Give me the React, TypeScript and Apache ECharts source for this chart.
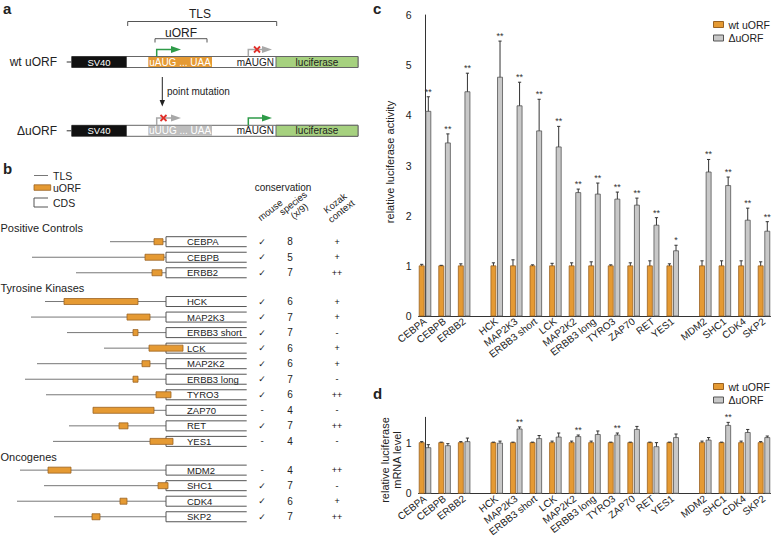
import React, { useEffect, useRef } from 'react';
import * as echarts from 'echarts';

// ---------- data ----------
const genes = ['CEBPA', 'CEBPB', 'ERBB2', 'HCK', 'MAP2K3', 'ERBB3 short', 'LCK', 'MAP2K2', 'ERBB3 long', 'TYRO3', 'ZAP70', 'RET', 'YES1', 'MDM2', 'SHC1', 'CDK4', 'SKP2'];
const geneGroup = [0, 0, 0, 1, 1, 1, 1, 1, 1, 1, 1, 1, 1, 2, 2, 2, 2];
const groupNames = ['Positive Controls', 'Tyrosine Kinases', 'Oncogenes'];

// panel b: TLS / uORF positions relative to CDS start (arbitrary length units)
const tlsStart = [-56, -134, -90, -121, -135, -99, -62, -129, -141, -120, -73, -97, -113, -146, -122, -149, -112];
const uorfStart = [-12, -21, -14, -102, -39, -33, -17, -24, -33, -10, -73, -47, -16, -118, -8, -46, -74];
const uorfEnd = [-3, -2, -4, -28, -16, -28, 17, -16, -28, 5, -12, -38, 7, -95, 2, -39, -66];
const mouseCons = ['✓', '✓', '✓', '✓', '✓', '✓', '✓', '✓', '✓', '✓', '-', '✓', '-', '-', '✓', '✓', '✓'];
const speciesCons = [8, 5, 7, 6, 7, 7, 6, 6, 7, 6, 4, 7, 4, 4, 7, 6, 7];
const kozak = ['+', '+', '++', '+', '+', '-', '+', '+', '-', '++', '-', '++', '-', '++', '-', '+', '++'];

// panel c: relative luciferase activity
const actWt = [1, 1, 1, 1, 1, 1, 1, 1, 1, 1, 1, 1, 1, 1, 1, 1, 1];
const actWtErr = [0.03, 0.01, 0.04, 0.06, 0.12, 0.02, 0.05, 0.06, 0.08, 0.02, 0.06, 0.1, 0.04, 0.1, 0.1, 0.1, 0.08];
const actDelta = [4.08, 3.45, 4.47, 4.76, 4.19, 3.69, 3.37, 2.46, 2.43, 2.33, 2.21, 1.81, 1.3, 2.87, 2.6, 1.91, 1.69];
const actDeltaErr = [0.29, 0.18, 0.37, 0.72, 0.47, 0.63, 0.41, 0.07, 0.22, 0.14, 0.14, 0.15, 0.11, 0.25, 0.17, 0.24, 0.19];
const actSig = ['**', '**', '**', '**', '**', '**', '**', '**', '**', '**', '**', '**', '*', '**', '**', '**', '**'];

// panel d: relative luciferase mRNA level
const mrnaWt = [1, 1, 1, 1, 1, 1, 1, 1, 1, 1, 1, 1, 1, 1, 1, 1, 1];
const mrnaWtErr = [0.02, 0.01, 0.02, 0.01, 0.01, 0.01, 0.03, 0.03, 0.03, 0.01, 0.01, 0.01, 0.01, 0.03, 0.01, 0.03, 0.02];
const mrnaDelta = [0.9, 0.94, 1.02, 0.99, 1.27, 1.08, 1.11, 1.12, 1.16, 1.15, 1.26, 0.92, 1.1, 1.05, 1.34, 1.2, 1.1];
const mrnaDeltaErr = [0.06, 0.04, 0.07, 0.04, 0.04, 0.06, 0.08, 0.03, 0.07, 0.04, 0.06, 0.08, 0.07, 0.05, 0.06, 0.06, 0.03];
const mrnaSig = ['', '', '', '', '**', '', '', '**', '', '**', '', '', '', '', '**', '', ''];

const yTicksC = [0, 1, 2, 3, 4, 5, 6];
const yTicksD = [0, 1];

// ---------- styles ----------
const FONT = '"Liberation Sans", Arial, Helvetica, sans-serif';
const TEXT = '#222';
const ORANGE = '#E59A33';
const ORANGE_EDGE = '#9a6222';
const GREY = '#C8C8C8';
const GREY_EDGE = '#555';
const GREEN = '#A6D17F';
const ARROW_GREEN = '#2E9B48';
const ARROW_GREY = '#A8A8A8';
const RED = '#E0302A';

// layout derived from the data structure
const rowPos = genes.map((_, i) => i + 0.85 * geneGroup[i]);
const barPos = genes.map((_, i) => 3 * i + 2 * geneGroup[i]);
const posLabel: Record<number, string> = {};
barPos.forEach((p, i) => { posLabel[p] = genes[i]; });
const groupFirstPos = groupNames.map((_, g) => rowPos[geneGroup.indexOf(g)]);

function txt(x: number, y: number, text: string, opts: any = {}) {
  const { rotation, ...style } = opts;
  return {
    type: 'text', x, y, rotation: rotation || 0,
    style: { text, fill: TEXT, fontSize: 10, fontFamily: FONT, align: 'left', verticalAlign: 'middle', ...style },
  };
}
function ln(x1: number, y1: number, x2: number, y2: number, stroke = '#333', lineWidth = 1) {
  return { type: 'line', shape: { x1, y1, x2, y2 }, style: { stroke, lineWidth } };
}
function poly(points: number[][], stroke = '#555', lineWidth = 1) {
  return { type: 'polyline', shape: { points }, style: { stroke, lineWidth, fill: 'none' } };
}
function bentArrow(x: number, y0: number, y1: number, xEnd: number, color: string) {
  return [
    { type: 'polyline', shape: { points: [[x, y0], [x, y1], [xEnd - 9, y1]] }, style: { stroke: color, lineWidth: 1.5, fill: 'none' } },
    { type: 'polygon', shape: { points: [[xEnd - 10, y1 - 3.5], [xEnd, y1], [xEnd - 10, y1 + 3.5]] }, style: { fill: color } },
  ];
}
function redX(x: number, y: number) {
  return [ln(x - 3, y - 3, x + 3, y + 3, RED, 1.8), ln(x - 3, y + 3, x + 3, y - 3, RED, 1.8)];
}
function construct(yc: number, wt: boolean) {
  const top = yc - 5.5;
  const h = 11;
  return [
    txt(57, yc, wt ? 'wt uORF' : 'ΔuORF', { align: 'right', fontSize: 12 }),
    ln(66.7, yc, 71.7, yc, '#333', 1),
    { type: 'rect', shape: { x: 71.7, y: top, width: 358 - 71.7, height: h }, style: { fill: '#fff', stroke: '#666', lineWidth: 1 } },
    { type: 'rect', shape: { x: 71.7, y: top, width: 55, height: h }, style: { fill: '#111' } },
    txt(99, yc, 'SV40', { align: 'center', fill: '#fff', fontSize: 9.5 }),
    { type: 'rect', shape: { x: 148.3, y: top + 0.5, width: 63.7, height: h - 1 }, style: { fill: wt ? ORANGE : '#BDBDBD' } },
    txt(180, yc, wt ? 'uAUG ... UAA' : 'uUUG ... UAA', { align: 'center', fill: '#fff', fontSize: 10 }),
    txt(274, yc, 'mAUGN', { align: 'right', fontSize: 10 }),
    { type: 'rect', shape: { x: 276, y: top, width: 82, height: h }, style: { fill: GREEN, stroke: '#666', lineWidth: 1 } },
    txt(317, yc, 'luciferase', { align: 'center', fontSize: 10 }),
  ];
}

function barSeries(name: string, xi: number, yi: number, values: number[], errs: number[], sig: string[], offset: number, fill: string, edge: string) {
  return {
    type: 'custom', name, xAxisIndex: xi, yAxisIndex: yi,
    itemStyle: { color: fill, borderColor: edge },
    data: genes.map((_, i) => [barPos[i], values[i], errs[i]]),
    encode: { x: 0, y: 1 },
    renderItem: (params: any, api: any) => {
      const i = params.dataIndex;
      const p = api.value(0);
      const v = api.value(1);
      const e = api.value(2);
      const base = api.coord([p, 0]);
      const top = api.coord([p, v]);
      const et = api.coord([p, v + e]);
      const cx = base[0] + offset;
      const bw = 5;
      const children: any[] = [
        { type: 'rect', shape: { x: cx - bw / 2, y: top[1], width: bw, height: base[1] - top[1] }, style: { fill, stroke: edge, lineWidth: 0.8 } },
        { type: 'line', shape: { x1: cx, y1: top[1], x2: cx, y2: et[1] }, style: { stroke: '#333', lineWidth: 1 } },
        { type: 'line', shape: { x1: cx - 1.6, y1: et[1], x2: cx + 1.6, y2: et[1] }, style: { stroke: '#333', lineWidth: 1 } },
      ];
      if (sig[i]) {
        children.push({ type: 'text', x: cx, y: et[1] - 0.5, style: { text: sig[i], align: 'center', verticalAlign: 'bottom', fontSize: 9, fill: '#333', fontFamily: FONT } });
      }
      return { type: 'group', children };
    },
  };
}

function valueXAxis(gridIndex: number) {
  return {
    type: 'value', gridIndex, min: -1, max: 53, interval: 1,
    axisLine: { show: true, onZero: false, lineStyle: { color: '#333', width: 1 } },
    axisTick: { show: false }, splitLine: { show: false },
    axisLabel: { rotate: 38, fontSize: 10, color: TEXT, margin: 4, fontFamily: FONT, formatter: (v: number) => posLabel[Math.round(v)] || '' },
  };
}
function valueYAxis(gridIndex: number, max: number, ticks: number[]) {
  return {
    type: 'value', gridIndex, min: 0, max, interval: 1,
    axisLine: { show: true, lineStyle: { color: '#333', width: 1 } },
    axisTick: { show: false }, splitLine: { show: false },
    axisLabel: { fontSize: 10.5, color: TEXT, margin: 7, fontFamily: FONT, formatter: (v: number) => (ticks.indexOf(v) >= 0 ? String(v) : '') },
  };
}

function legendAt(top: number) {
  return {
    orient: 'vertical', left: 713, top, itemWidth: 10, itemHeight: 6, itemGap: 2.5,
    padding: 0,
    textStyle: { fontSize: 10.5, lineHeight: 11, color: TEXT, fontFamily: FONT },
    selectedMode: false,
    data: [
      { name: 'wt uORF', icon: 'rect', itemStyle: { color: ORANGE, borderColor: ORANGE_EDGE, borderWidth: 1 } },
      { name: 'ΔuORF', icon: 'rect', itemStyle: { color: GREY, borderColor: GREY_EDGE, borderWidth: 1 } },
    ],
  };
}

export default function App() {
  const ref = useRef<HTMLDivElement>(null);
  useEffect(() => {
    if (!ref.current) return;
    const chart = echarts.init(ref.current, undefined, { renderer: 'svg' });
    const rowUnit = 15.54;
    const graphic: any[] = [
      // panel letters
      txt(3, 8, 'a', { fontWeight: 'bold', fontSize: 15 }),
      txt(3, 168, 'b', { fontWeight: 'bold', fontSize: 15 }),
      txt(373, 8, 'c', { fontWeight: 'bold', fontSize: 15 }),
      txt(373, 393, 'd', { fontWeight: 'bold', fontSize: 15 }),
      // panel a
      txt(200, 14, 'TLS', { align: 'center', fontSize: 12 }),
      poly([[127.7, 26], [127.7, 21.5], [276.7, 21.5], [276.7, 26]], '#555', 1),
      txt(181, 32.5, 'uORF', { align: 'center', fontSize: 12 }),
      poly([[155, 42.5], [155, 38.7], [207, 38.7], [207, 42.5]], '#555', 1),
      ...construct(62, true),
      ...bentArrow(156.7, 56.5, 49.5, 181, ARROW_GREEN),
      ...bentArrow(248.3, 56.5, 49.5, 272, ARROW_GREY),
      ...redX(257, 49.5),
      ln(162.3, 77, 162.3, 101, '#222', 1),
      { type: 'polygon', shape: { points: [[159.6, 100], [165, 100], [162.3, 106.5]] }, style: { fill: '#222' } },
      txt(167, 91, 'point mutation', { fontSize: 10 }),
      ...construct(130.8, false),
      ...bentArrow(156.7, 125.3, 118, 181, ARROW_GREY),
      ...redX(163.5, 118),
      ...bentArrow(248.3, 125.3, 118, 272, ARROW_GREEN),
      // panel b legend / headers
      ln(34, 175.5, 48, 175.5, '#777', 1),
      txt(53, 175.5, 'TLS', { fontSize: 10.5 }),
      { type: 'rect', shape: { x: 34, y: 184.8, width: 16.7, height: 5.5 }, style: { fill: ORANGE, stroke: ORANGE_EDGE, lineWidth: 0.8 } },
      txt(53, 187.5, 'uORF', { fontSize: 10.5 }),
      poly([[48, 198], [34, 198], [34, 207], [48, 207]], '#555', 1),
      txt(53, 202.5, 'CDS', { fontSize: 10.5 }),
      txt(283, 187.5, 'conservation', { align: 'center', fontSize: 10 }),
      txt(270, 210, 'mouse', { align: 'center', fontSize: 9.5, rotation: (38 * Math.PI) / 180 }),
      txt(296, 207, 'species\n(x/9)', { align: 'center', fontSize: 9.5, lineHeight: 10, rotation: (38 * Math.PI) / 180 }),
      txt(338, 207, 'Kozak\ncontext', { align: 'center', fontSize: 9.5, lineHeight: 10, rotation: (38 * Math.PI) / 180 }),
      // axis titles
      txt(390, 162, 'relative luciferase activity', { align: 'center', fontSize: 11, rotation: Math.PI / 2 }),
      txt(391, 460, 'relative luciferase\nmRNA level', { align: 'center', fontSize: 11, lineHeight: 11.5, rotation: Math.PI / 2 }),
    ];

    const option: any = {
      animation: false,
      textStyle: { fontFamily: FONT },
      grid: [
        { left: 16, top: 241.7 - rowUnit, width: 150, height: 19 * rowUnit },
        { left: 418.5, top: 15, width: 352, height: 301 },
        { left: 418.5, top: 417.3, width: 352, height: 76 },
      ],
      xAxis: [
        { type: 'value', gridIndex: 0, min: -150, max: 0, show: false },
        valueXAxis(1),
        valueXAxis(2),
      ],
      yAxis: [
        { type: 'value', gridIndex: 0, min: -1, max: 18, inverse: true, show: false },
        valueYAxis(1, 6, yTicksC),
        valueYAxis(2, 1.5, yTicksD),
      ],
      legend: [legendAt(19), legendAt(381)],
      graphic,
      series: [
        {
          type: 'custom', name: 'uORF map', xAxisIndex: 0, yAxisIndex: 0,
          data: genes.map((_, i) => [tlsStart[i], rowPos[i], uorfStart[i], uorfEnd[i]]),
          encode: { x: 0, y: 1 },
          renderItem: (params: any, api: any) => {
            const i = params.dataIndex;
            const y = api.coord([0, api.value(1)])[1];
            const x0 = api.coord([api.value(0), 0])[0];
            const xc = api.coord([0, 0])[0];
            const xu1 = api.coord([api.value(2), 0])[0];
            const xu2 = api.coord([api.value(3), 0])[0];
            const boxR = xc + 80.7;
            return {
              type: 'group',
              children: [
                { type: 'line', shape: { x1: x0, y1: y, x2: xc, y2: y }, style: { stroke: '#777', lineWidth: 1 } },
                { type: 'rect', shape: { x: xc, y: y - 5, width: boxR - xc, height: 10 }, style: { fill: '#fff' } },
                { type: 'polyline', shape: { points: [[boxR, y - 5], [xc, y - 5], [xc, y + 5], [boxR, y + 5]] }, style: { stroke: '#555', lineWidth: 1, fill: 'none' } },
                { type: 'rect', shape: { x: xu1, y: y - 3, width: xu2 - xu1, height: 6 }, style: { fill: ORANGE, stroke: ORANGE_EDGE, lineWidth: 0.8 } },
                { type: 'text', x: xc + 21, y, style: { text: genes[i], align: 'left', verticalAlign: 'middle', fontSize: 9.5, fill: TEXT, fontFamily: FONT } },
                { type: 'text', x: xc + 96, y, style: { text: mouseCons[i], align: 'center', verticalAlign: 'middle', fontSize: 9, fill: TEXT, fontFamily: '"DejaVu Sans", sans-serif' } },
                { type: 'text', x: xc + 124, y, style: { text: String(speciesCons[i]), align: 'center', verticalAlign: 'middle', fontSize: 10, fill: TEXT, fontFamily: FONT } },
                { type: 'text', x: xc + 171, y, style: { text: kozak[i], align: 'center', verticalAlign: 'middle', fontSize: 9, fill: '#111', fontFamily: FONT } },
              ],
            };
          },
        },
        {
          type: 'custom', name: 'groups', xAxisIndex: 0, yAxisIndex: 0,
          data: groupNames.map((_, g) => [-150, groupFirstPos[g] - 0.85]),
          encode: { x: 0, y: 1 },
          renderItem: (params: any, api: any) => {
            const y = api.coord([0, api.value(1)])[1];
            return { type: 'text', x: 0.5, y, style: { text: groupNames[params.dataIndex], align: 'left', verticalAlign: 'middle', fontSize: 11, fill: TEXT, fontFamily: FONT } };
          },
        },
        barSeries('wt uORF', 1, 1, actWt, actWtErr, genes.map(() => ''), -3.3, ORANGE, ORANGE_EDGE),
        barSeries('ΔuORF', 1, 1, actDelta, actDeltaErr, actSig, 3.3, GREY, GREY_EDGE),
        barSeries('wt uORF', 2, 2, mrnaWt, mrnaWtErr, genes.map(() => ''), -3.3, ORANGE, ORANGE_EDGE),
        barSeries('ΔuORF', 2, 2, mrnaDelta, mrnaDeltaErr, mrnaSig, 3.3, GREY, GREY_EDGE),
      ],
    };
    chart.setOption(option);
    return () => chart.dispose();
  }, []);
  return <div ref={ref} style={{ position: 'absolute', left: 0, top: 0, width: 774, height: 545, background: '#fff' }} />;
}
